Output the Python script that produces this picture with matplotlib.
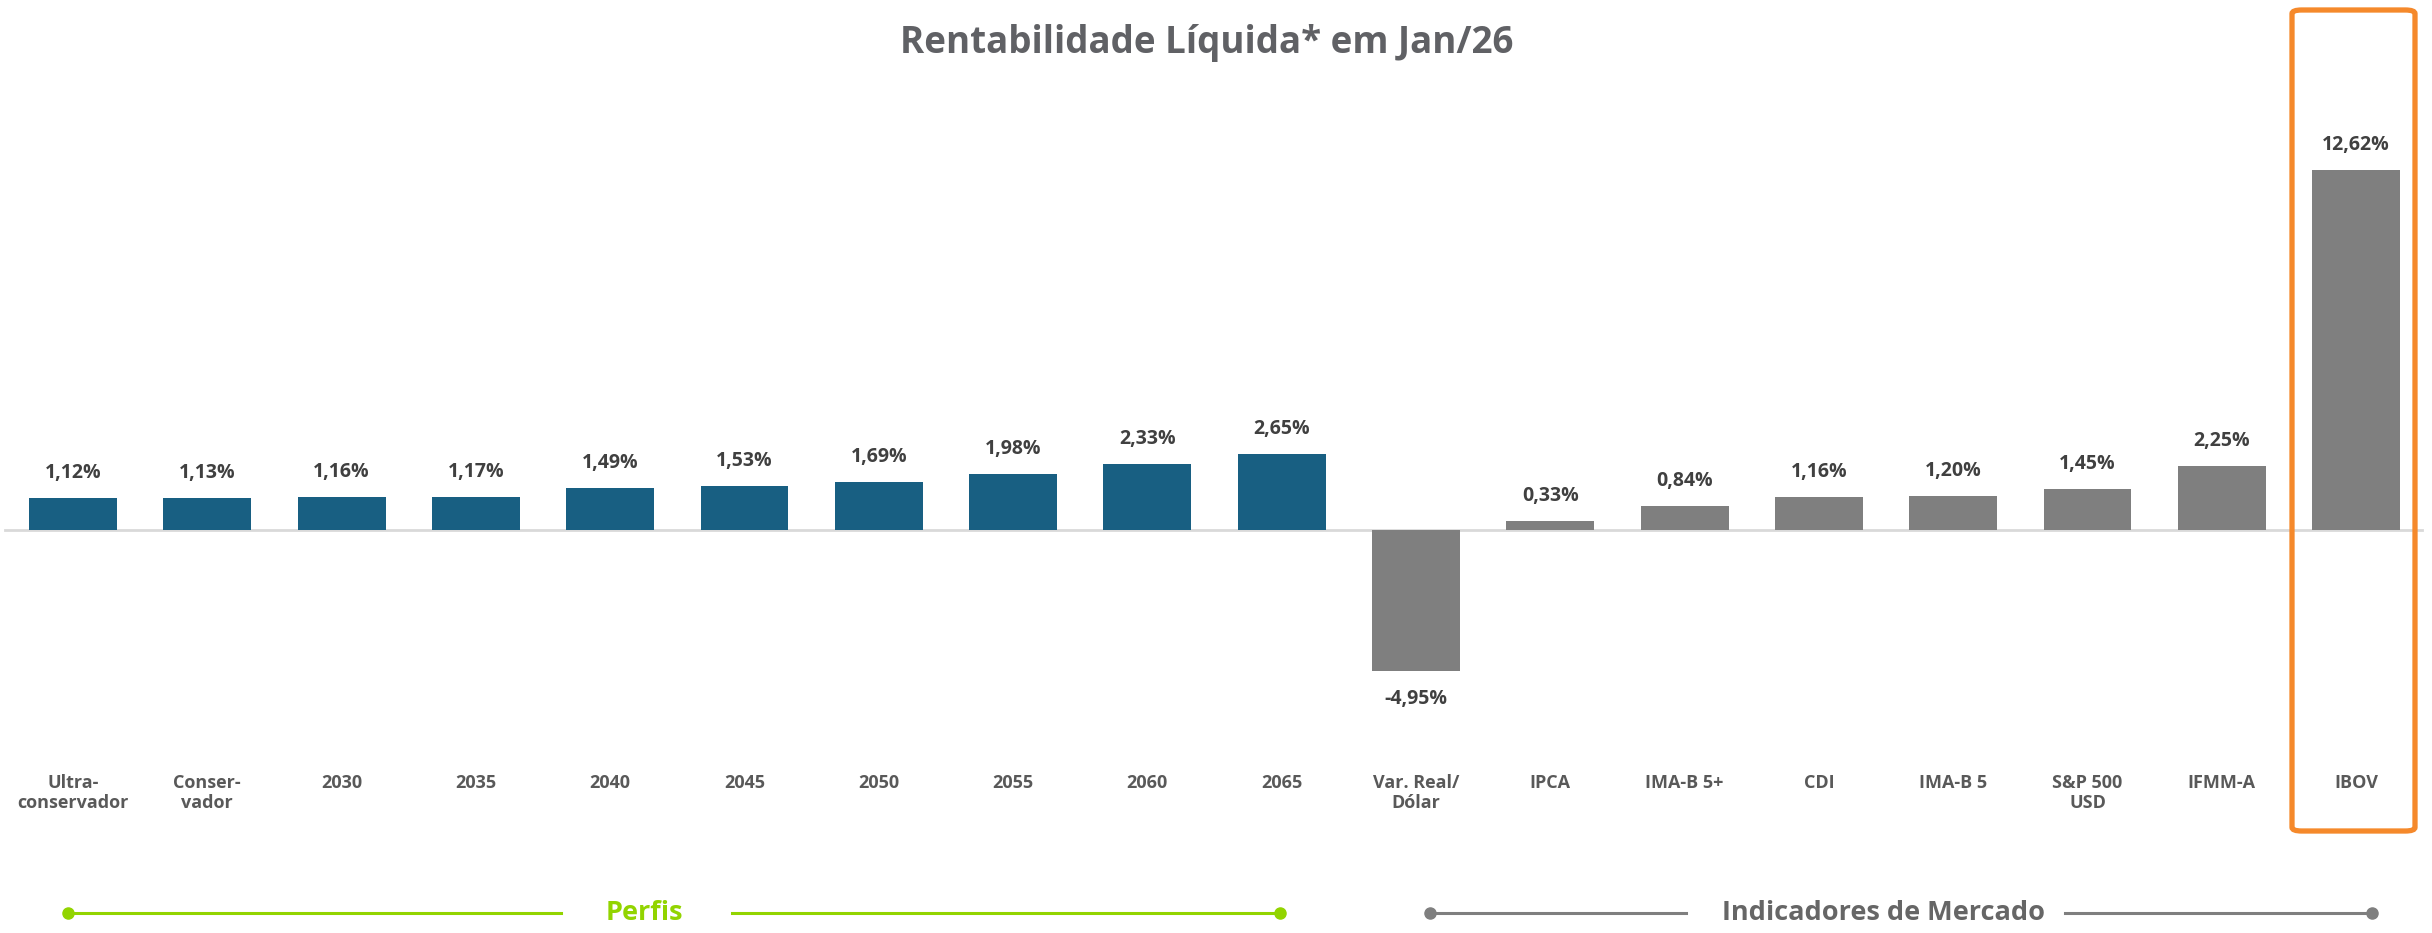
import matplotlib.pyplot as plt
import matplotlib.patches as p
from matplotlib.lines import Line2D

# data
categories = ["Ultra-\nconservador", "Conser-\nvador", "2030", "2035", "2040", "2045",
              "2050", "2055", "2060", "2065", "Var. Real/\nDólar", "IPCA", "IMA-B 5+",
              "CDI", "IMA-B 5", "S&P 500\nUSD", "IFMM-A", "IBOV"]
values = [1.12, 1.13, 1.16, 1.17, 1.49, 1.53, 1.69, 1.98, 2.33, 2.65,
          -4.95, 0.33, 0.84, 1.16, 1.20, 1.45, 2.25, 12.62]
n_perfis = 10

BLUE = "#185f82"
GRAY = "#7f7f7f"
GREEN = "#92d400"
ORANGE = "#f5892b"
W, H = 2432, 933

plt.rcParams['font.family'] = ['Open Sans', 'DejaVu Sans']

fig = plt.figure(figsize=(W / 100, H / 100), dpi=100)
ax = fig.add_axes([0, 233 / H, 1, 700 / H])

colors = [BLUE] * n_perfis + [GRAY] * (len(values) - n_perfis)
x = list(range(len(values)))
bars = ax.bar(x, values, width=0.655, color=colors, zorder=2)

# zero line
ax.axhline(0, xmin=5 / W, xmax=2422 / W, color="#d9d9d9", linewidth=2, zorder=1)

ppu = 28.5  # pixels per percent
ax.set_ylim(-170 / ppu, 530 / ppu)
ax.set_xlim(-73 / 134.3, (W - 73) / 134.3)

# value labels
for xi, v in zip(x, values):
    txt = f"{v:.2f}".replace(".", ",") + "%"
    off = 18 if v >= 0 else -20
    ax.annotate(txt, (xi, v), xytext=(0, off), textcoords="offset points",
                ha="center", va="center", fontsize=14, fontweight="bold", color="#404040")

# tick labels
ax.set_xticks(x)
ax.set_xticklabels(categories, fontsize=13, fontweight="bold", color="#595959", linespacing=1.2)
ax.tick_params(axis="x", length=0, pad=53)
ax.set_yticks([])
for s in ax.spines.values():
    s.set_visible(False)

# title
fig.text(1207 / W, 1 - 53 / H, "Rentabilidade Líquida* em Jan/26", ha="center", va="baseline",
         fontsize=26.5, fontweight="bold", color="#606165")

# highlight box on IBOV
box = p.FancyBboxPatch((2292 / W, 1 - 831 / H), (2415 - 2292) / W, (831 - 10) / H,
                       boxstyle="round,pad=0,rounding_size=0.004", transform=fig.transFigure,
                       fill=False, edgecolor=ORANGE, linewidth=3.8)
fig.add_artist(box)

# group legend at the bottom
yl = 1 - 913 / H


def group_line(x0, x1, col):
    fig.add_artist(Line2D([x0 / W, x1 / W], [yl, yl], color=col, linewidth=2.2,
                          transform=fig.transFigure))


def group_dot(xd, col):
    fig.add_artist(Line2D([xd / W], [yl], marker="o", markersize=8, color=col,
                          transform=fig.transFigure))


group_line(68, 561, GREEN)
group_line(732, 1280, GREEN)
group_dot(68, GREEN)
group_dot(1280, GREEN)
fig.text(644 / W, yl, "Perfis", ha="center", va="center", fontsize=19.5,
         fontweight="bold", color=GREEN)

group_line(1430, 1686, GRAY)
group_line(2065, 2372, GRAY)
group_dot(1430, GRAY)
group_dot(2372, GRAY)
fig.text(1884 / W, yl, "Indicadores de Mercado", ha="center", va="center", fontsize=19.5,
         fontweight="bold", color="#666666")

fig.savefig("out.png", dpi=100)
